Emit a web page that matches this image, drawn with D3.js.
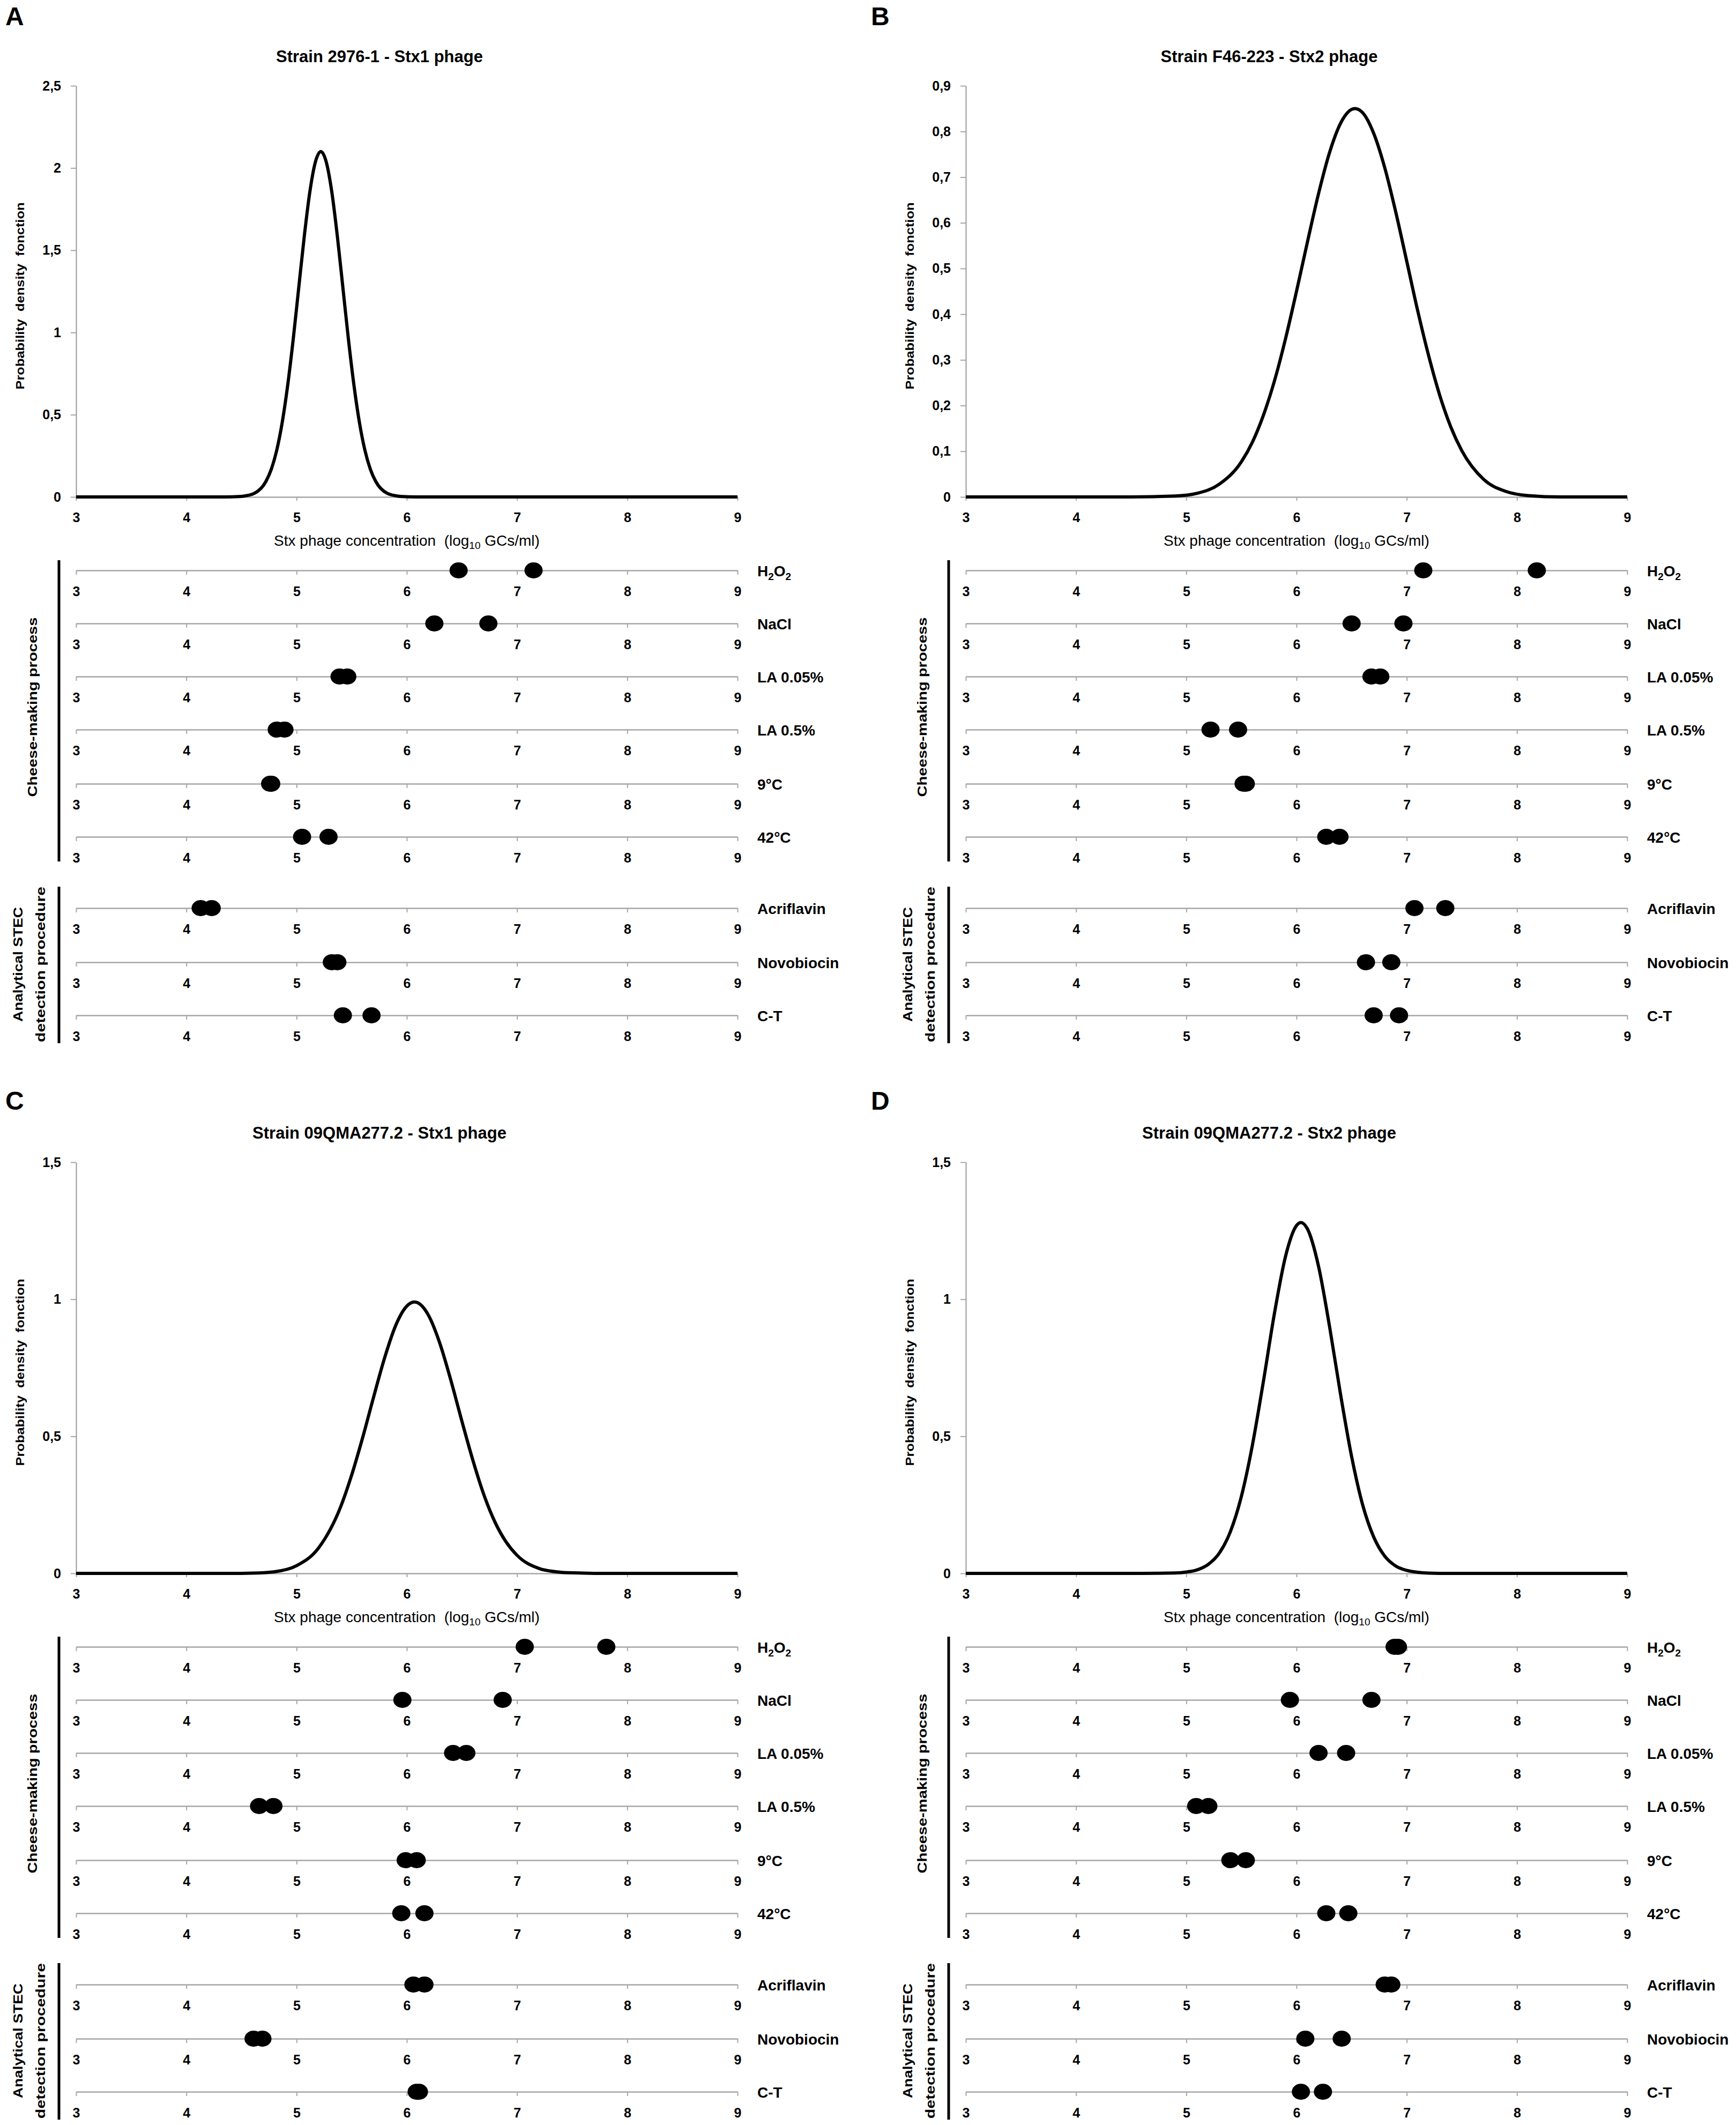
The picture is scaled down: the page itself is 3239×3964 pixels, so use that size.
<!DOCTYPE html>
<html>
<head>
<meta charset="utf-8">
<script src="https://cdn.jsdelivr.net/npm/d3@7"></script>
<style>
  body { margin: 0; background: #fff; }
  svg { display: block; }
  text { font-family: "Liberation Sans", Arial, sans-serif; fill: #000; }
</style>
</head>
<body>
<script>
// ---- data ----
var xTicks = [3, 4, 5, 6, 7, 8, 9];
var letters = ["A", "B", "C", "D"];
var titles = [
  "Strain 2976-1 - Stx1 phage",
  "Strain F46-223 - Stx2 phage",
  "Strain 09QMA277.2 - Stx1 phage",
  "Strain 09QMA277.2 - Stx2 phage"
];
var cheeseRows = ["H2O2", "NaCl", "LA 0.05%", "LA 0.5%", "9°C", "42°C"];
var analyticRows = ["Acriflavin", "Novobiocin", "C-T"];

var yTicksA = [0, 0.5, 1, 1.5, 2, 2.5];
var yTicksB = [0, 0.1, 0.2, 0.3, 0.4, 0.5, 0.6, 0.7, 0.8, 0.9];
var yTicksC = [0, 0.5, 1, 1.5];
var yTicksD = [0, 0.5, 1, 1.5];

// probability density curves [log10 GCs/ml, density]
var densityA = [[3, 0], [4.3, 0], [4.42, 0.001], [4.52, 0.005], [4.62, 0.023], [4.72, 0.092], [4.77, 0.167],
  [4.82, 0.284], [4.87, 0.454], [4.92, 0.682], [4.97, 0.961], [5.02, 1.274], [5.07, 1.585], [5.12, 1.853],
  [5.17, 2.035], [5.22, 2.10], [5.27, 2.035], [5.32, 1.853], [5.37, 1.585], [5.42, 1.274], [5.47, 0.961],
  [5.52, 0.682], [5.57, 0.454], [5.62, 0.284], [5.67, 0.167], [5.72, 0.092], [5.82, 0.023], [5.92, 0.005],
  [6.02, 0.001], [6.15, 0], [9, 0]];
var densityB = [[3, 0], [4.5, 0], [4.9, 0.002], [5.1, 0.008], [5.3, 0.028], [5.5, 0.077], [5.6, 0.120],
  [5.7, 0.179], [5.8, 0.254], [5.9, 0.346], [6.0, 0.450], [6.1, 0.559], [6.2, 0.664], [6.3, 0.754],
  [6.4, 0.818], [6.53, 0.85], [6.6, 0.841], [6.7, 0.796], [6.8, 0.721], [6.9, 0.624], [7.0, 0.516],
  [7.1, 0.407], [7.2, 0.308], [7.3, 0.222], [7.4, 0.153], [7.5, 0.101], [7.7, 0.038], [7.9, 0.012],
  [8.1, 0.003], [8.4, 0], [9, 0]];
var densityC = [[3, 0], [4.4, 0], [4.6, 0.001], [4.8, 0.006], [5.0, 0.028], [5.2, 0.093], [5.4, 0.243],
  [5.5, 0.359], [5.6, 0.496], [5.7, 0.645], [5.8, 0.788], [5.9, 0.905], [6.0, 0.975], [6.07, 0.99],
  [6.1, 0.987], [6.2, 0.939], [6.3, 0.839], [6.4, 0.704], [6.5, 0.555], [6.6, 0.412], [6.7, 0.286],
  [6.8, 0.187], [6.9, 0.115], [7.0, 0.066], [7.2, 0.018], [7.4, 0.004], [7.6, 0.001], [7.8, 0], [9, 0]];
var densityD = [[3, 0], [4.6, 0], [4.9, 0.0015], [5.0, 0.005], [5.1, 0.013], [5.2, 0.033], [5.3, 0.074],
  [5.4, 0.152], [5.5, 0.281], [5.6, 0.468], [5.7, 0.701], [5.8, 0.949], [5.9, 1.156], [6.0, 1.269],
  [6.04, 1.28], [6.1, 1.256], [6.2, 1.120], [6.3, 0.900], [6.4, 0.652], [6.5, 0.426], [6.6, 0.250],
  [6.7, 0.133], [6.8, 0.063], [6.9, 0.027], [7.0, 0.011], [7.1, 0.004], [7.2, 0.001], [7.4, 0], [9, 0]];

// two replicate values per row: 6 cheese-making rows then 3 analytical rows
var dotsA = [[6.47, 7.15], [6.25, 6.74], [5.39, 5.46], [4.82, 4.89], [4.76, 4.77], [5.05, 5.29],
  [4.13, 4.23], [5.32, 5.37], [5.42, 5.68]];
var dotsB = [[7.15, 8.18], [6.50, 6.97], [6.68, 6.76], [5.22, 5.47], [5.52, 5.54], [6.27, 6.39],
  [7.07, 7.35], [6.63, 6.86], [6.70, 6.93]];
var dotsC = [[7.07, 7.81], [5.96, 6.87], [6.42, 6.54], [4.66, 4.79], [5.99, 6.09], [5.95, 6.16],
  [6.06, 6.16], [4.61, 4.69], [6.09, 6.11]];
var dotsD = [[6.89, 6.92], [5.94, 6.68], [6.20, 6.45], [5.09, 5.20], [5.40, 5.54], [6.27, 6.47],
  [6.80, 6.86], [6.08, 6.41], [6.04, 6.24]];

// ---- layout ----
var W = 3239, H = 3964;
var offsets = [[0, 0], [1660, 0], [0, 2008], [1660, 2008]];
var letterPos = [[10, 47], [1625, 47], [10, 2070], [1625, 2070]];
var cheeseY = [1064, 1163, 1262, 1361, 1462, 1561];
var analyticY = [1694, 1795, 1894];
var grey = "#a6a6a6";

var panels = [
  { yTicks: yTicksA, dens: densityA, dots: dotsA },
  { yTicks: yTicksB, dens: densityB, dots: dotsB },
  { yTicks: yTicksC, dens: densityC, dots: dotsC },
  { yTicks: yTicksD, dens: densityD, dots: dotsD }
];

var comma = d3.formatLocale({ decimal: ",", thousands: ".", grouping: [3], currency: ["", ""] }).format(".1~f");

var svg = d3.select("body").append("svg")
  .attr("width", W)
  .attr("height", H);

svg.append("rect").attr("width", W).attr("height", H).attr("fill", "#fff");

var xScale = d3.scaleLinear().domain([3, 9]).range([142, 1376]);

// label with subscripts like H2O2
function rowLabel(sel, name) {
  if (name === "H2O2") {
    sel.append("tspan").text("H");
    sel.append("tspan").text("2").attr("font-size", 19).attr("dy", 7);
    sel.append("tspan").text("O").attr("dy", -7);
    sel.append("tspan").text("2").attr("font-size", 19).attr("dy", 7);
  } else {
    sel.text(name);
  }
}

function styleAxis(g) {
  g.selectAll(".domain").attr("stroke", grey).attr("stroke-width", 2.5);
  g.selectAll(".tick line").attr("stroke", grey).attr("stroke-width", 2);
  g.selectAll(".tick text")
    .attr("font-family", "Liberation Sans, Arial, sans-serif")
    .attr("font-size", 25)
    .attr("font-weight", "bold")
    .attr("fill", "#000");
}

panels.forEach(function (p, i) {
  var g = svg.append("g")
    .attr("transform", "translate(" + offsets[i][0] + "," + offsets[i][1] + ")");

  var yMax = p.yTicks[p.yTicks.length - 1];
  var yScale = d3.scaleLinear().domain([0, yMax]).range([927, 160]);

  // title
  g.append("text")
    .attr("x", 708).attr("y", 116)
    .attr("text-anchor", "middle")
    .attr("font-size", 31)
    .attr("font-weight", "bold")
    .text(titles[i]);

  // y axis
  var yAxisG = g.append("g")
    .attr("transform", "translate(142,0)")
    .call(d3.axisLeft(yScale).tickValues(p.yTicks).tickFormat(comma).tickSize(10).tickSizeOuter(0).tickPadding(18));
  styleAxis(yAxisG);
  yAxisG.selectAll(".domain").attr("stroke", "#999").attr("stroke-width", 2);

  // x axis
  var xAxisG = g.append("g")
    .attr("transform", "translate(0,927)")
    .call(d3.axisBottom(xScale).tickValues(xTicks).tickFormat(d3.format("d")).tickSize(7).tickSizeOuter(0));
  styleAxis(xAxisG);
  xAxisG.selectAll(".tick text").attr("y", 47).attr("dy", 0);

  // y axis title
  g.append("text")
    .attr("transform", "translate(45,552) rotate(-90)")
    .attr("text-anchor", "middle")
    .attr("font-family", "DejaVu Sans, Verdana, sans-serif")
    .attr("font-weight", "bold")
    .attr("font-size", 22)
    .attr("textLength", 349)
    .attr("lengthAdjust", "spacingAndGlyphs")
    .style("white-space", "pre")
    .text("Probability  density  fonction");

  // x axis title
  var xt = g.append("text")
    .attr("x", 759).attr("y", 1018)
    .attr("text-anchor", "middle")
    .attr("font-size", 28)
    .style("white-space", "pre");
  xt.append("tspan").text("Stx phage concentration  (log");
  xt.append("tspan").text("10").attr("font-size", 19).attr("dy", 6);
  xt.append("tspan").text(" GCs/ml)").attr("dy", -6);

  // density curve
  var lineGen = d3.line()
    .x(function (d) { return xScale(d[0]); })
    .y(function (d) { return yScale(d[1]); })
    .curve(d3.curveMonotoneX);

  g.append("path")
    .attr("d", lineGen(p.dens))
    .attr("fill", "none")
    .attr("stroke", "#000")
    .attr("stroke-width", 6)
    .attr("stroke-linejoin", "round");

  // dot strips
  var rows = cheeseRows.concat(analyticRows);
  var rowY = cheeseY.concat(analyticY);

  rows.forEach(function (name, r) {
    var sg = g.append("g").attr("transform", "translate(0," + rowY[r] + ")");
    var ax = sg.append("g")
      .call(d3.axisBottom(xScale).tickValues(xTicks).tickFormat(d3.format("d")).tickSize(8).tickSizeOuter(0));
    styleAxis(ax);
    ax.selectAll(".tick text").attr("y", 48).attr("dy", 0);

    sg.selectAll("ellipse")
      .data(p.dots[r])
      .enter()
      .append("ellipse")
      .attr("cx", function (d) { return xScale(d); })
      .attr("cy", 0)
      .attr("rx", 17)
      .attr("ry", 15)
      .attr("fill", "#000");

    var lab = sg.append("text")
      .attr("x", 1413).attr("y", 11)
      .attr("font-size", 28)
      .attr("font-weight", "bold");
    rowLabel(lab, name);
  });

  // group brackets
  g.append("line")
    .attr("x1", 110).attr("x2", 110)
    .attr("y1", 1045).attr("y2", 1607)
    .attr("stroke", "#000").attr("stroke-width", 5);
  g.append("line")
    .attr("x1", 110).attr("x2", 110)
    .attr("y1", 1654).attr("y2", 1946)
    .attr("stroke", "#000").attr("stroke-width", 5);

  g.append("text")
    .attr("transform", "translate(69,1319) rotate(-90)")
    .attr("text-anchor", "middle")
    .attr("font-family", "Open Sans, DejaVu Sans, sans-serif")
    .attr("font-weight", "bold")
    .attr("font-size", 24)
    .attr("textLength", 335)
    .attr("lengthAdjust", "spacingAndGlyphs")
    .text("Cheese-making process");

  var an = g.append("text")
    .attr("transform", "translate(0,1799) rotate(-90)")
    .attr("text-anchor", "middle")
    .attr("font-family", "Open Sans, DejaVu Sans, sans-serif")
    .attr("font-weight", "bold")
    .attr("font-size", 24);
  an.append("tspan").attr("x", 0).attr("y", 42)
    .attr("textLength", 214).attr("lengthAdjust", "spacingAndGlyphs")
    .text("Analytical STEC");
  an.append("tspan").attr("x", 0).attr("y", 84)
    .attr("textLength", 290).attr("lengthAdjust", "spacingAndGlyphs")
    .text("detection procedure");

  // panel letter
  svg.append("text")
    .attr("x", letterPos[i][0]).attr("y", letterPos[i][1])
    .attr("font-size", 48)
    .attr("font-weight", "bold")
    .text(letters[i]);
});
</script>
</body>
</html>
